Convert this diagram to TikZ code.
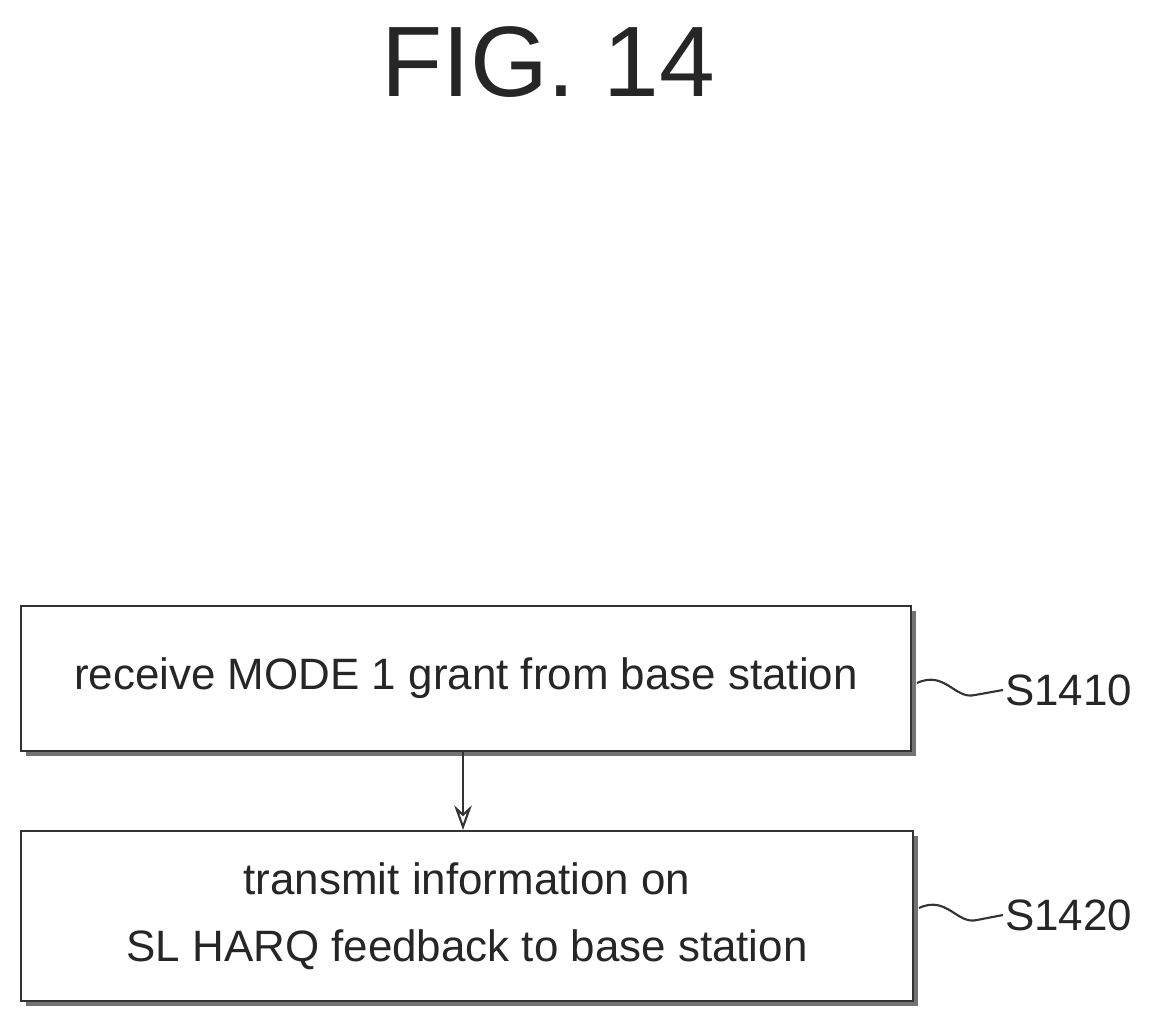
\documentclass[tikz,border=0pt]{standalone}
\usepackage{fontspec}
\setmainfont{Liberation Sans}
\usetikzlibrary{arrows.meta}
\begin{document}
\begin{tikzpicture}[x=0.02cm,y=-0.02cm,
  box/.style={draw=black!80,line width=1.2pt,fill=white,minimum width=890*0.02cm,align=center,font=\fontsize{25}{38}\selectfont,text=black!85},
  shadow/.style={fill=black!55},
  lab/.style={font=\fontsize{25}{32}\selectfont,text=black!85,anchor=west,inner sep=1pt},
  sq/.style={draw=black!80,line width=1.2pt}]
\useasboundingbox (0,0) rectangle (1150,1010);
\node[font=\fontsize{57}{70}\selectfont,text=black!85] (title) at (548,62) {FIG. 14};
\fill[shadow] (26,611) rectangle (916,756);
\node[box,minimum height=145*0.02cm,anchor=north west] (b1) at (20,605) {receive MODE 1 grant from base station};
\fill[shadow] (26,836) rectangle (918,1006);
\node[box,minimum height=170*0.02cm,anchor=north west,minimum width=892*0.02cm] (b2) at (20,830) {transmit information on\\SL HARQ feedback to base station};
\draw[line width=1.2pt,black!80,-{Stealth[open,length=14pt,width=10pt]}] (b1.south -| 463,0) -- (b2.north -| 463,0);
\node[lab] (l1) at (1003,690) {S1410};
\node[lab] (l2) at (1003,915) {S1420};
\draw[sq] (917,683) .. controls (945,670) and (955,700) .. (975,695) -- (l1.west);
\draw[sq] (919,908) .. controls (947,895) and (957,925) .. (977,920) -- (l2.west);
\end{tikzpicture}
\end{document}
